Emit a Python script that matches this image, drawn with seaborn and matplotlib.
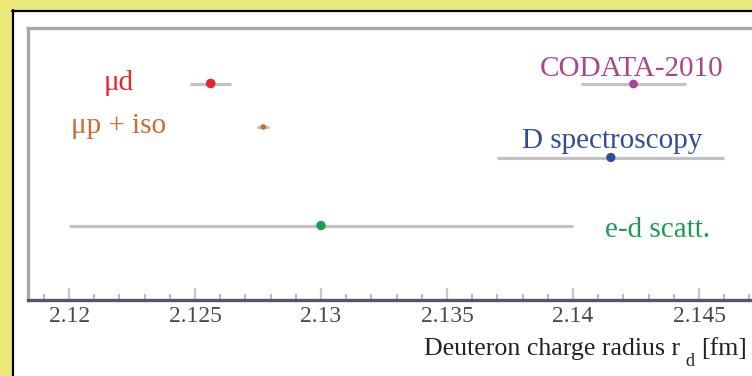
import matplotlib
matplotlib.use("Agg")
import matplotlib.pyplot as plt
import seaborn as sns
import pandas as pd
from matplotlib.ticker import MultipleLocator, FixedLocator, FixedFormatter
from matplotlib.patches import Rectangle
from matplotlib.lines import Line2D

# Deuteron charge radius determinations (fm)
labels = ["μd", "μp + iso", "CODATA-2010", "D spectroscopy", "e-d scatt."]
radius = [2.12562, 2.12771, 2.1424, 2.1415, 2.1300]
uncert = [0.00082, 0.00024, 0.0021, 0.0045, 0.0100]
tick_values = [2.12, 2.125, 2.13, 2.135, 2.14, 2.145]
tick_labels = ["2.12", "2.125", "2.13", "2.135", "2.14", "2.145"]

# vertical slot of each measurement inside the frame
rows = [55.5, 99.0, 56.0, 129.5, 197.5]
colors = ["#e3262f", "#cc6a35", "#a8458f", "#2f4c99", "#1f9a52"]
marker_area = [48, 16, 40, 44, 46]
# label anchors (pixels from the top-left corner of the canvas)
label_xy = [(104, 90), (71, 133), (540, 76), (522, 148), (605, 237)]

W, H = 752, 376

sns.set_style("white")
plt.rcParams["font.family"] = ["Liberation Serif", "DejaVu Serif"]

fig = plt.figure(figsize=(W / 100, H / 100), dpi=100, facecolor="#ebe97a")

# white slide panel with its dark border
fig.patches.append(Rectangle((14 / W, 0), 1, 1 - 11 / H, transform=fig.transFigure,
                             facecolor="white", edgecolor="none", zorder=-2))
fig.lines.append(Line2D([13 / W, 13 / W], [0, 1 - 10 / H], transform=fig.transFigure,
                        color="black", lw=1.6, zorder=-1))
fig.lines.append(Line2D([12 / W, 1], [1 - 10.5 / H, 1 - 10.5 / H], transform=fig.transFigure,
                        color="black", lw=1.6, zorder=-1))

ax = fig.add_axes([28 / W, (H - 300) / H, (762 - 28) / W, (300 - 28) / H])
ax.set_zorder(1)
ax.set_facecolor("white")

df = pd.DataFrame({"label": labels, "radius": radius, "row": rows, "err": uncert})

ax.errorbar(df["radius"], df["row"], xerr=df["err"], fmt="none",
            ecolor="#c2c2c2", elinewidth=2.3, capsize=0, zorder=2)
sns.scatterplot(data=df, x="radius", y="row", hue="label",
                palette=dict(zip(labels, colors)),
                size="label", sizes=dict(zip(labels, marker_area)),
                edgecolor="none", legend=False, ax=ax, zorder=3)

ax.set_xlim(2.11837, 2.14750)
ax.set_ylim(272, 0)
ax.set_xlabel("")
ax.set_ylabel("")
ax.set_yticks([])

ax.xaxis.set_major_locator(FixedLocator(tick_values))
ax.xaxis.set_major_formatter(FixedFormatter(tick_labels))
ax.xaxis.set_minor_locator(MultipleLocator(0.001))
ax.tick_params(axis="x", which="major", direction="in", length=9, width=1.6,
               color="#c8c8c8", pad=4, labelsize=17, labelcolor="#4a4a4a", bottom=True)
ax.tick_params(axis="x", which="minor", direction="in", length=4, width=1.3,
               color="#b4b4b4", bottom=True)

ax.spines["bottom"].set_color("#555566")
ax.spines["bottom"].set_linewidth(2.4)
ax.spines["left"].set_color("#a6a6a6")
ax.spines["left"].set_linewidth(2.4)
ax.spines["top"].set_color("#aaaaaa")
ax.spines["top"].set_linewidth(2.4)
ax.spines["right"].set_visible(False)

for (px, py), text, col in zip(label_xy, labels, colors):
    fig.text(px / W, 1 - py / H, text, color=col, fontsize=21,
             ha="left", va="baseline", zorder=5)

# axis title, with the subscript set as its own smaller, lowered piece
label_color = "#222222"
fig.text(680 / W, 1 - 355 / H, "Deuteron charge radius r",
         color=label_color, fontsize=18.6, ha="right", va="baseline", zorder=5)
fig.text(685 / W, 1 - 366 / H, "d",
         color=label_color, fontsize=13, ha="left", va="baseline", zorder=5)
fig.text(747 / W, 1 - 355 / H, "[fm]",
         color=label_color, fontsize=18.6, ha="right", va="baseline", zorder=5)

fig.savefig("out.png", dpi=100, facecolor=fig.get_facecolor())
